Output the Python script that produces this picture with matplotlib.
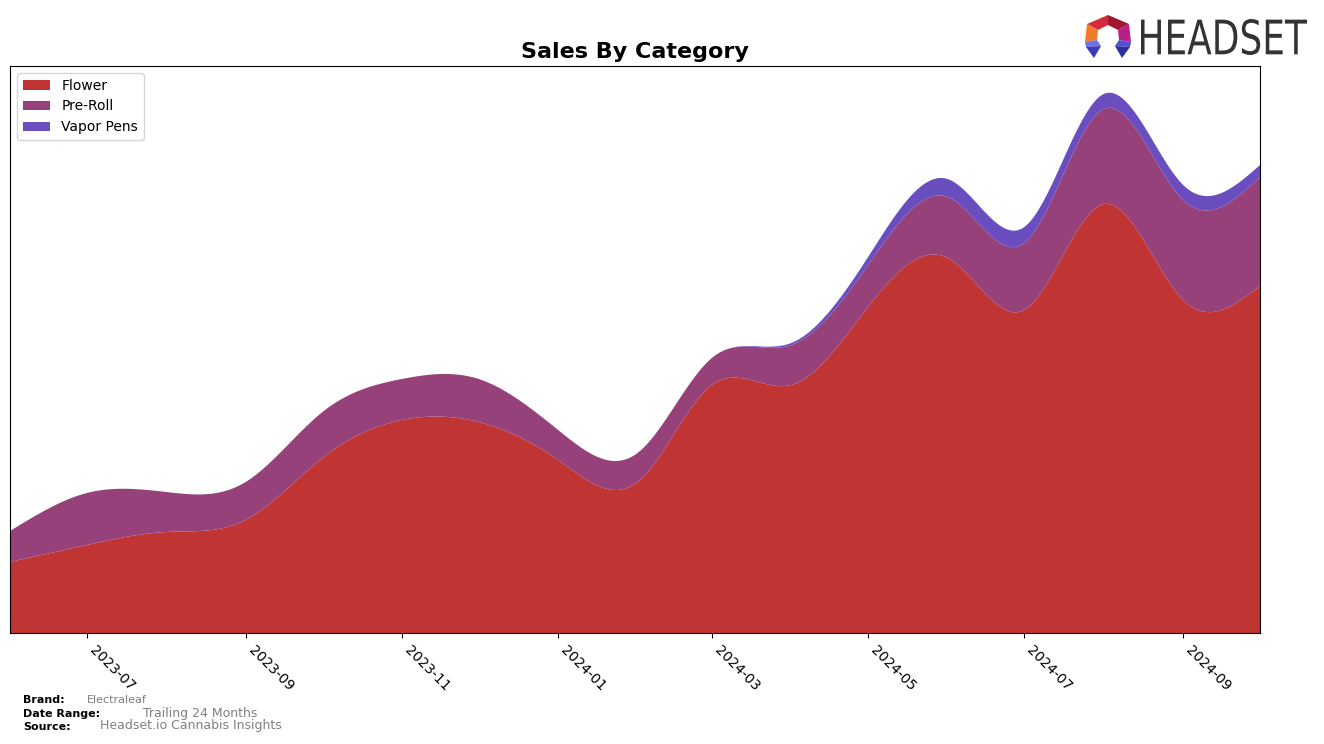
import numpy as np
import pandas as pd
import matplotlib
matplotlib.use('Agg')
import matplotlib.pyplot as plt
import matplotlib.dates as mdates
from matplotlib.patches import Polygon, PathPatch
from matplotlib.textpath import TextPath
from matplotlib.font_manager import FontProperties
from matplotlib.transforms import Affine2D

# monthly sales (arbitrary units)
months = pd.date_range('2023-06-01', '2024-10-01', freq='MS')
flower = [71, 88, 101, 113, 175, 213, 211, 173, 151, 248, 248, 326, 375, 323, 429, 333, 347]
pre_roll = [31, 52, 40, 38, 46, 41, 43, 30, 29, 27, 40, 42, 61, 67, 95, 100, 109]
vapor_pens = [0, 0, 0, 0, 0, 0, 0, 0, 0, 0, 2, 8, 18, 16, 15, 15, 12]
labels = ['Flower', 'Pre-Roll', 'Vapor Pens']
colors = ['#C13434', '#96417A', '#6A4EC0']


def natural_spline(x, y, xs):
    x = np.asarray(x, float)
    y = np.asarray(y, float)
    n = len(x)
    h = np.diff(x)
    A = np.zeros((n, n))
    r = np.zeros(n)
    A[0, 0] = 1
    A[-1, -1] = 1
    for i in range(1, n - 1):
        A[i, i - 1] = h[i - 1]
        A[i, i] = 2 * (h[i - 1] + h[i])
        A[i, i + 1] = h[i]
        r[i] = 3 * ((y[i + 1] - y[i]) / h[i] - (y[i] - y[i - 1]) / h[i - 1])
    c = np.linalg.solve(A, r)
    b = (y[1:] - y[:-1]) / h - h * (2 * c[:-1] + c[1:]) / 3
    d = (c[1:] - c[:-1]) / (3 * h)
    idx = np.clip(np.searchsorted(x, xs) - 1, 0, n - 2)
    t = xs - x[idx]
    return y[idx] + b[idx] * t + c[idx] * t ** 2 + d[idx] * t ** 3


xnum = mdates.date2num(months.to_pydatetime())
xs = np.linspace(xnum[0], xnum[-1], 600)
smooth = [np.clip(natural_spline(xnum, s, xs), 0, None) for s in (flower, pre_roll, vapor_pens)]

fig = plt.figure(figsize=(13.24, 7.44), dpi=100)
ax = fig.add_axes([10 / 1324, 111 / 744, 1250 / 1324, 567 / 744])

ax.stackplot(mdates.num2date(xs), *smooth, labels=labels, colors=colors)

ax.set_xlim(xnum[0], xnum[-1])
ax.set_ylim(0, 567)
ax.set_yticks([])
ax.xaxis.set_major_locator(mdates.MonthLocator(bymonth=[1, 3, 5, 7, 9, 11]))
ax.xaxis.set_major_formatter(mdates.DateFormatter('%Y-%m'))
plt.setp(ax.get_xticklabels(), rotation=-45, ha='left', fontsize=10)
ax.set_title('Sales By Category', fontsize=16, fontweight='bold')
ax.legend(loc='upper left', fontsize=10)

# footer
fig.text(23 / 1324, 1 - 700 / 744, 'Brand:', fontsize=8, fontweight='bold', va='center')
fig.text(87 / 1324, 1 - 700 / 744, 'Electraleaf', fontsize=8, color='gray', va='center')
fig.text(23 / 1324, 1 - 714 / 744, 'Date Range:', fontsize=8, fontweight='bold', va='center')
fig.text(143 / 1324, 1 - 713 / 744, 'Trailing 24 Months', fontsize=9, color='gray', va='center')
fig.text(23 / 1324, 1 - 727 / 744, 'Source:', fontsize=8, fontweight='bold', va='center')
fig.text(100 / 1324, 1 - 726 / 744, 'Headset.io Cannabis Insights', fontsize=9, color='gray', va='center')

# logo, in image pixel units (y measured from top)
lax = fig.add_axes([1080 / 1324, 1 - 64 / 744, 240 / 1324, 56 / 744])
lax.set_xlim(1080, 1320)
lax.set_ylim(64, 8)
lax.axis('off')

tp = TextPath((0, 0), 'HEADSET', size=1, prop=FontProperties(family='DejaVu Sans'))
ext = tp.get_extents()
x0, x1, y0, y1 = 1141, 1307, 19, 55
tr = (Affine2D().translate(-ext.x0, -ext.y0)
      .scale((x1 - x0) / ext.width, -(y1 - y0) / ext.height)
      .translate(x0, y1))
lax.add_patch(PathPatch(tr.transform_path(tp), color='#333333', lw=0))

T, UR, R, UL, L = (1108, 15), (1129, 24), (1131, 42), (1087, 24), (1085, 42)
t, ur, r, ul, l = (1108, 25), (1118, 30), (1119, 40), (1098, 30), (1097, 40)
pieces = [
    ([T, t, ul, UL], '#D42A3A'),
    ([T, UR, ur, t], '#A0182F'),
    ([UL, ul, l, L], '#F07A2A'),
    ([UR, ur, r, R], '#B81F86'),
    ([L, l, (1101, 46), (1086, 47)], '#7070E8'),
    ([(1086, 47), (1101, 46), (1094, 58)], '#3A3AB8'),
    ([R, r, (1115, 46), (1130, 47)], '#5050D0'),
    ([(1130, 47), (1115, 46), (1122, 58)], '#2E2E9E'),
]
for pts, col in pieces:
    lax.add_patch(Polygon(pts, closed=True, color=col, lw=0))

plt.savefig('out.png', dpi=100)
